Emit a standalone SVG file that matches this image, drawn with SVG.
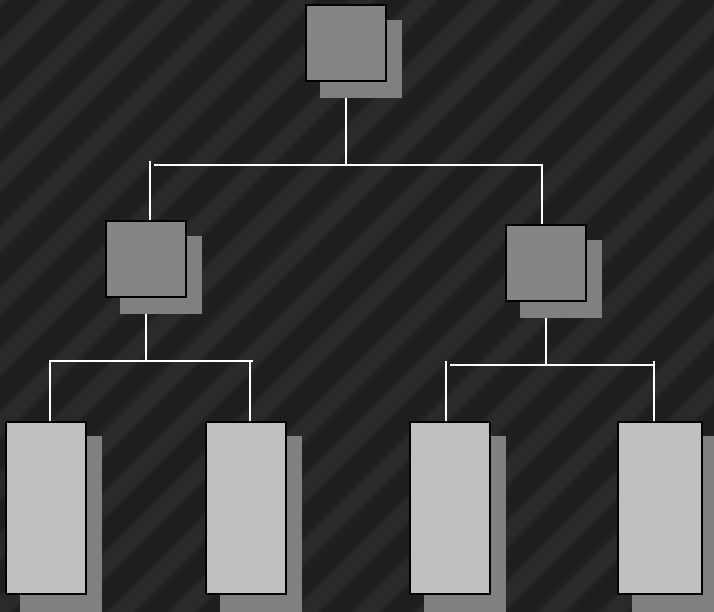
<svg xmlns="http://www.w3.org/2000/svg" width="714" height="612" viewBox="0 0 714 612">
<style>
.sh{fill:#808080}
.bx{fill:#858585;stroke:#000;stroke-width:2}
.lf{fill:#c0c0c0;stroke:#000;stroke-width:2}
.ln{stroke:#fff;stroke-width:2;fill:none}
</style>
<defs>
<linearGradient id="stripes" gradientUnits="userSpaceOnUse" x1="12.1" y1="12.1" x2="42.9" y2="42.9" spreadMethod="repeat">
<stop offset="0" stop-color="#1e1e1e"/>
<stop offset="0.22" stop-color="#1f1f1f"/>
<stop offset="0.34" stop-color="#2a2a2a"/>
<stop offset="0.66" stop-color="#2a2a2a"/>
<stop offset="0.78" stop-color="#1f1f1f"/>
<stop offset="1" stop-color="#1e1e1e"/>
</linearGradient>
</defs>
<rect x="0" y="0" width="714" height="612" fill="url(#stripes)"/>
<g id="connectors">
<line class="ln" x1="346" y1="85" x2="346" y2="165"/>
<line class="ln" x1="154" y1="165" x2="542" y2="165"/>
<line class="ln" x1="150" y1="161" x2="150" y2="221"/>
<line class="ln" x1="542" y1="164" x2="542" y2="225"/>
<line class="ln" x1="146" y1="302" x2="146" y2="361"/>
<line class="ln" x1="49" y1="361" x2="253" y2="361"/>
<line class="ln" x1="50" y1="360" x2="50" y2="422"/>
<line class="ln" x1="250" y1="360" x2="250" y2="422"/>
<line class="ln" x1="546" y1="305" x2="546" y2="365"/>
<line class="ln" x1="450" y1="365" x2="654" y2="365"/>
<line class="ln" x1="446" y1="361" x2="446" y2="422"/>
<line class="ln" x1="654" y1="361" x2="654" y2="422"/>
</g>
<g id="root">
<rect class="sh" x="320" y="20" width="82" height="78"/>
<rect class="bx" x="306" y="5" width="80" height="76"/>
</g>
<g id="mid-left">
<rect class="sh" x="120" y="236" width="82" height="78"/>
<rect class="bx" x="106" y="221" width="80" height="76"/>
</g>
<g id="mid-right">
<rect class="sh" x="520" y="240" width="82" height="78"/>
<rect class="bx" x="506" y="225" width="80" height="76"/>
</g>
<g id="leaf-1">
<rect class="sh" x="20" y="436" width="82" height="180"/>
<rect class="lf" x="6" y="422" width="80" height="172"/>
</g>
<g id="leaf-2">
<rect class="sh" x="220" y="436" width="82" height="180"/>
<rect class="lf" x="206" y="422" width="80" height="172"/>
</g>
<g id="leaf-3">
<rect class="sh" x="424" y="436" width="82" height="180"/>
<rect class="lf" x="410" y="422" width="80" height="172"/>
</g>
<g id="leaf-4">
<rect class="sh" x="632" y="436" width="86" height="180"/>
<rect class="lf" x="618" y="422" width="84" height="172"/>
</g>
</svg>
